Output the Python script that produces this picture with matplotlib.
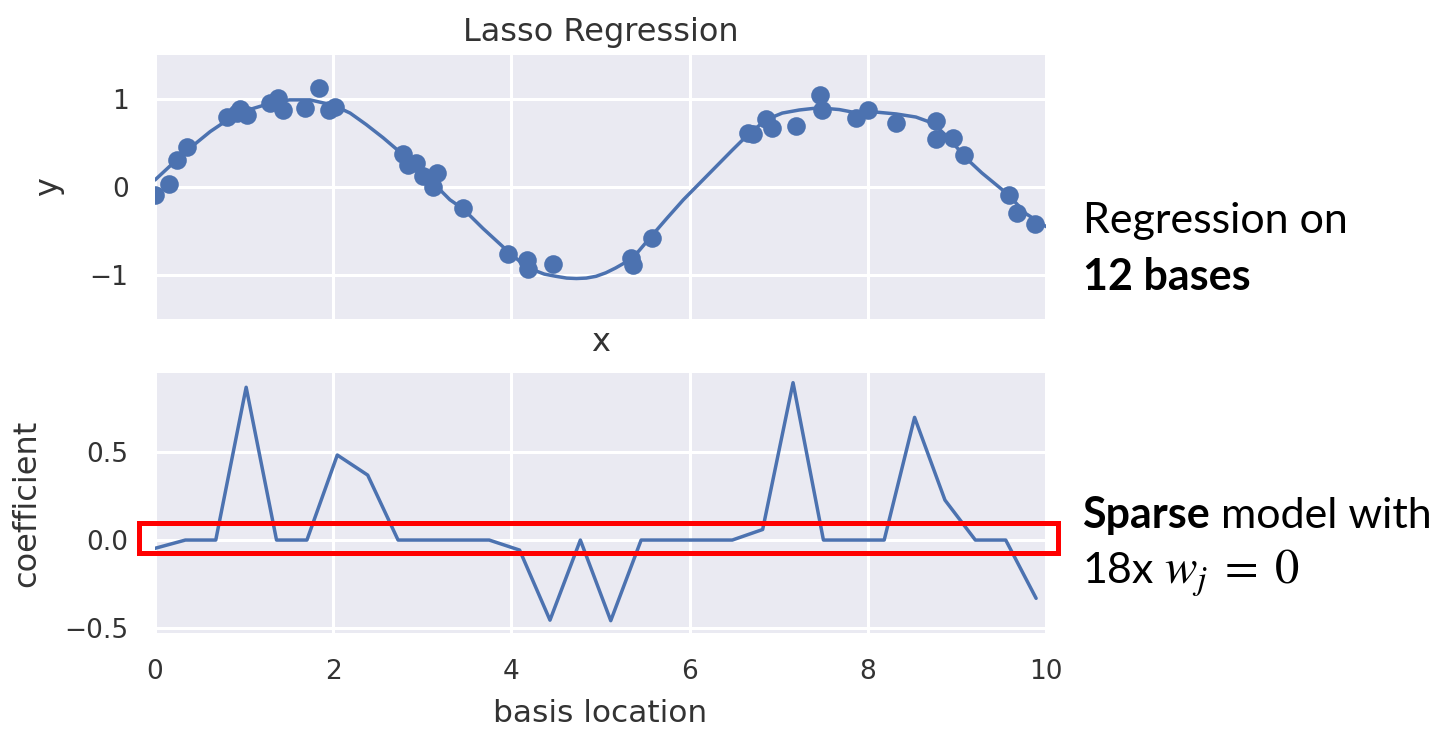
import numpy as np
import matplotlib
matplotlib.use("Agg")
import matplotlib.pyplot as plt
import seaborn as sns

sns.set_style("darkgrid")
plt.rcParams['font.family'] = ['DejaVu Sans']
plt.rcParams['mathtext.fontset'] = 'stix'

# ---- data ----
x_data = [0.00, 0.16, 0.25, 0.36, 0.81, 0.92, 0.95, 1.03, 1.29, 1.38, 1.44, 1.68,
          1.84, 1.95, 2.02, 2.78, 2.84, 2.93, 3.01, 3.16, 3.12, 3.46, 3.96, 4.17,
          4.19, 4.47, 5.34, 5.36, 5.58, 6.65, 6.71, 6.86, 6.93, 7.19, 7.46, 7.49,
          7.87, 8.00, 8.32, 8.77, 8.77, 8.96, 9.08, 9.59, 9.67, 9.88]
y_data = [-0.09, 0.03, 0.31, 0.45, 0.79, 0.84, 0.89, 0.82, 0.95, 1.01, 0.875, 0.90,
          1.13, 0.875, 0.91, 0.37, 0.25, 0.27, 0.12, 0.16, 0.00, -0.24, -0.76, -0.83,
          -0.93, -0.87, -0.81, -0.885, -0.58, 0.61, 0.60, 0.77, 0.67, 0.695, 1.04, 0.875,
          0.78, 0.88, 0.725, 0.745, 0.545, 0.555, 0.365, -0.09, -0.30, -0.42]

x_fit = [0.00, 0.17, 0.39, 0.62, 0.84, 1.06, 1.29, 1.51, 1.74, 2.00, 2.19, 2.37,
         2.56, 2.78, 3.01, 3.31, 3.46, 3.68, 3.96, 4.10, 4.24, 4.37, 4.50, 4.62,
         4.73, 4.84, 4.95, 5.06, 5.17, 5.36, 5.57, 5.75, 5.93, 6.12, 6.30, 6.48,
         6.65, 6.86, 7.04, 7.23, 7.45, 7.68, 7.86, 8.00, 8.32, 8.54, 8.73, 8.91,
         9.10, 9.28, 9.58, 9.77, 9.97, 10.00]
y_fit = [0.08, 0.24, 0.44, 0.63, 0.78, 0.88, 0.95, 0.99, 0.99, 0.93, 0.84, 0.71,
         0.56, 0.37, 0.16, -0.145, -0.25, -0.47, -0.73, -0.85, -0.94, -0.99, -1.015, -1.035,
         -1.04, -1.035, -1.015, -0.975, -0.92, -0.81, -0.56, -0.35, -0.145, 0.05, 0.235, 0.42,
         0.59, 0.765, 0.84, 0.875, 0.90, 0.88, 0.845, 0.86, 0.83, 0.795, 0.725, 0.555,
         0.33, 0.16, -0.09, -0.30, -0.43, -0.45]

basis_loc = [0.000, 0.341, 0.682, 1.023, 1.364, 1.705, 2.046, 2.387, 2.728, 3.069,
             3.410, 3.751, 4.092, 4.433, 4.774, 5.115, 5.456, 5.797, 6.138, 6.479,
             6.820, 7.161, 7.502, 7.843, 8.184, 8.525, 8.866, 9.207, 9.548, 9.889]
coef = [-0.047, 0.0, 0.0, 0.868, 0.0, 0.0, 0.483, 0.369, 0.0, 0.0,
        0.0, 0.0, -0.057, -0.455, 0.0, -0.458, 0.0, 0.0, 0.0, 0.0,
        0.060, 0.894, 0.0, 0.0, 0.0, 0.697, 0.227, 0.0, 0.0, -0.331]

top_yticks = [-1, 0, 1]
bot_yticks = [-0.5, 0.0, 0.5]
xticks = [0, 2, 4, 6, 8, 10]

blue = '#4C72B0'
W, H = 1447, 729
fig = plt.figure(figsize=(W / 100, H / 100), dpi=100)
fig.patch.set_facecolor('white')

ax0 = fig.add_axes([155 / W, (H - 319) / H, 891 / W, 264 / H])
ax1 = fig.add_axes([155 / W, (H - 633) / H, 891 / W, 260 / H], sharex=ax0)

for ax in (ax0, ax1):
    ax.set_facecolor('#EAEAF2')
    ax.grid(True, color='white', linewidth=2.2)
    ax.tick_params(axis='both', labelsize=19, length=0, pad=19, labelcolor='#333333')
    for s in ax.spines.values():
        s.set_visible(False)

# top panel
ax0.scatter(x_data, y_data, s=180, color=blue, linewidths=0, zorder=3)
ax0.plot(x_fit, y_fit, color=blue, linewidth=2.5, zorder=3)
ax0.set_ylim(-1.5, 1.5)
ax0.set_yticks(top_yticks)
ax0.set_xlim(0, 10)
ax0.set_xticks(xticks)
plt.setp(ax0.get_xticklabels(), visible=False)
ax0.set_title('Lasso Regression', fontsize=23, color='#333333', pad=10)
ax0.set_xlabel('x', fontsize=23, color='#333333', va='center')
ax0.xaxis.set_label_coords(0.5, -0.089)
ax0.set_ylabel('y', fontsize=23, color='#333333', va='center')
ax0.yaxis.set_label_coords(-0.119, 0.5)

# bottom panel
ax1.plot(basis_loc, coef, color=blue, linewidth=2.5, zorder=3)
ax1.set_ylim(-0.528, 0.949)
ax1.set_yticks(bot_yticks)
ax1.set_yticklabels(['\u22120.5', '0.0', '0.5'])
ax1.set_xlim(0, 10)
ax1.set_xticks(xticks)
ax1.set_xlabel('basis location', fontsize=22.5, color='#333333', va='center')
ax1.xaxis.set_label_coords(0.5, -0.308)
ax1.set_ylabel('coefficient', fontsize=23, color='#333333', va='center')
ax1.yaxis.set_label_coords(-0.1437, 0.5)

# red highlight box around the zero coefficients
rect = plt.Rectangle((-0.174, -0.071), 10.304, 0.170, fill=False,
                     edgecolor='#FF0000', linewidth=3.6, clip_on=False, zorder=5)
ax1.add_patch(rect)

# annotations on the right
fs = 31
fam = ['Lato', 'DejaVu Sans']
fig.text(1083 / W, (H - 233) / H, 'Regression on', fontsize=fs, family=fam,
         va='baseline', ha='left', color='black')
fig.text(1083 / W, (H - 290) / H, '12 bases', fontsize=fs, family=fam,
         fontweight='bold', va='baseline', ha='left', color='black')
t1 = fig.text(1082 / W, (H - 528) / H, 'Sparse', fontsize=fs, family=fam,
              fontweight='bold', va='baseline', ha='left', color='black')
fig.canvas.draw()
ax1.annotate(' model with', xy=(1, 0), xycoords=t1, fontsize=fs, family=fam,
             va='bottom', ha='left', color='black', annotation_clip=False)
fig.text(1082 / W, (H - 583) / H, '18x', fontsize=fs, family=fam,
         va='baseline', ha='left', color='black')
fig.text(1164 / W, (H - 583) / H, r'$w_j\;=\;0$', fontsize=35,
         va='baseline', ha='left', color='black')

fig.savefig('out.png', dpi=100)
